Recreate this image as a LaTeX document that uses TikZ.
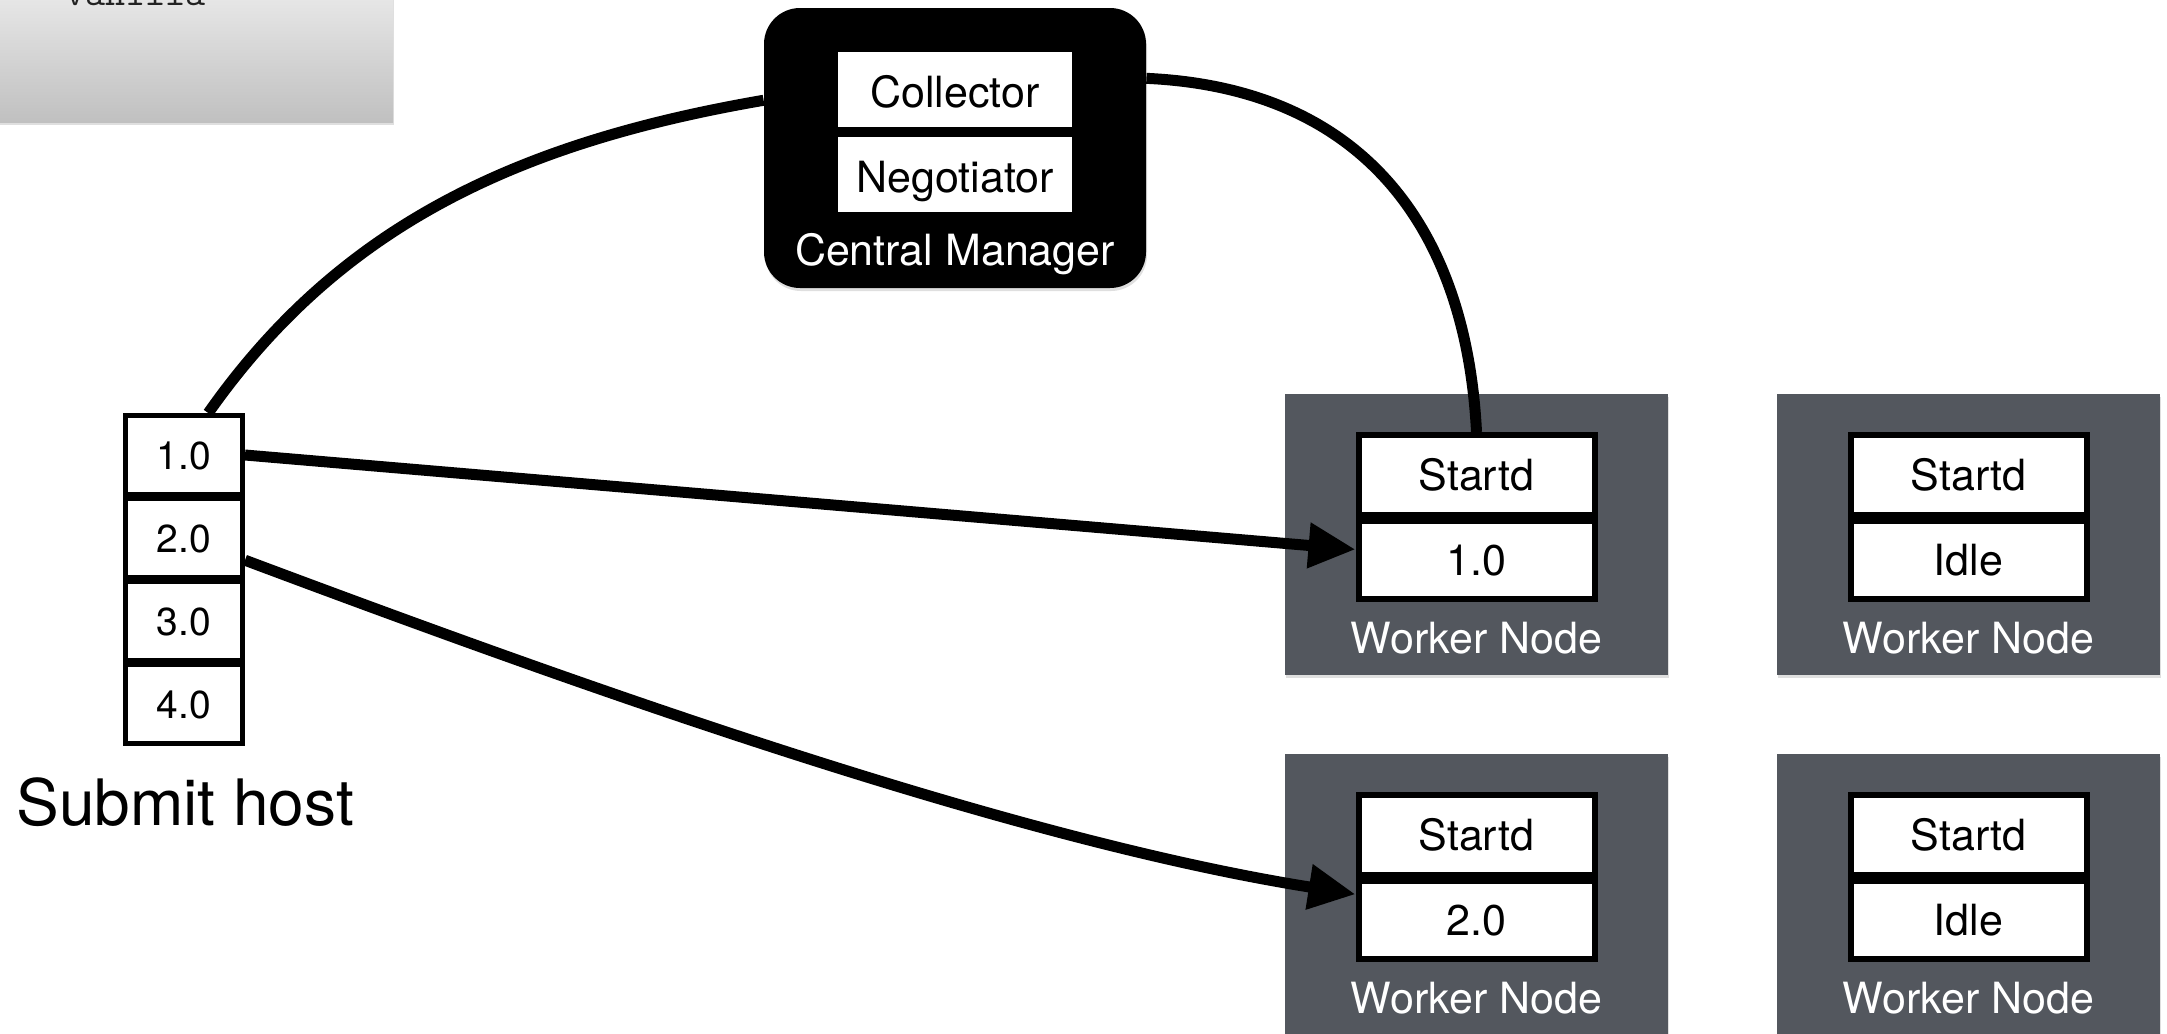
\documentclass[tikz,border=0pt]{standalone}
\usepackage{fontspec}
\setmainfont{TeX Gyre Heros}
\usetikzlibrary{arrows.meta,shadows}
\definecolor{nodegray}{HTML}{53575E}
\definecolor{paneltop}{HTML}{ECECEC}
\definecolor{panelbottom}{HTML}{C0C0C0}
\definecolor{codeink}{HTML}{222222}

\begin{document}
\begin{tikzpicture}[x=0.5pt,y=-0.5pt,
  txt/.style={font=\fontsize{21.5pt}{24pt}\selectfont},
  boxtxt/.style={txt,text height=15.4pt,text depth=0pt},
  softshadow/.style={drop shadow={shadow xshift=0.5pt,shadow yshift=-1.5pt,opacity=0.25}},
  panel/.style={top color=paneltop,bottom color=panelbottom,draw=none,
    minimum width=206.5pt,minimum height=71pt,inner sep=0pt,softshadow},
  cmbox/.style={fill=black,rounded corners=18pt,minimum width=191pt,
    minimum height=140pt,inner sep=0pt,softshadow},
  daemon/.style={txt,text height=18.2pt,text depth=0pt,fill=white,
    minimum width=117pt,minimum height=37.5pt,inner sep=0pt},
  worker/.style={fill=nodegray,minimum width=191.5pt,minimum height=140.5pt,
    inner sep=0pt,softshadow},
  slot/.style={boxtxt,draw=black,line width=3pt,fill=white,minimum width=118pt,inner sep=0pt},
  queue/.style={font=\fontsize{19.5pt}{22pt}\selectfont,text height=14pt,text depth=0pt,
    draw=black,line width=2.5pt,fill=white,minimum width=58.5pt,
    minimum height=39.5pt,inner sep=0pt},
  caption/.style={txt,text=white,anchor=base,inner sep=0pt},
  conn/.style={line width=5.5pt},
  jobarrow/.style={conn,-{Triangle[length=23.5pt,width=21.5pt]}}
]
\useasboundingbox (0,0) rectangle (2167,1033);

% submit description panel
\node[panel] (panel) at (186.5,51) {};
\node[anchor=base west,inner sep=0pt,text=codeink,
  font=\ttfamily\fontsize{19.5pt}{22pt}\selectfont] (univ) at (65,5) {vanilla};

% central manager
\node[cmbox] (cm) at (955,148) {};
\node[daemon] (coll) at (955,89.5) {Collector};
\node[daemon] (nego) at (955,174.5) {Negotiator};
\node[caption] (cmlabel) at (955,265) {Central Manager};

% worker nodes: startd slot and running job
\foreach \c/\r/\job/\n in {1476.5/534.5/1.0/1, 1968.5/534.5/Idle/2,
                           1476.5/894.5/2.0/3, 1968.5/894.5/Idle/4}{
  \node[worker] (w\n) at (\c,\r) {};
  \node[slot,minimum height=40pt] (s\n) at (\c,\r-59.5) {Startd};
  \node[slot,minimum height=39pt] (j\n) at (\c,\r+25.5) {\job};
  \node[caption] (t\n) at (\c,\r+118.5) {Worker Node};
}

% submit host job queue
\foreach \i/\y in {1/455,2/538,3/621,4/704}{
  \node[queue] (b\i) at (184,\y) {\i.0};
}
\node[anchor=base west,inner sep=0pt,font=\fontsize{32pt}{37pt}\selectfont]
  (submit) at (16,825) {Submit host};

% connections
\draw[conn] (b1.60) .. controls +(130,-185) and +(-250,43) .. (cm.166.2);
\draw[conn] (cm.20.6) .. controls +(220,10) and +(-10,-200) .. (s1.north);
\draw[jobarrow] (b1.east) -- (j1.175);
\draw[jobarrow] (b2.-20) .. controls +(315,118) and +(-354,-56) .. (j3.168);
\end{tikzpicture}
\end{document}
